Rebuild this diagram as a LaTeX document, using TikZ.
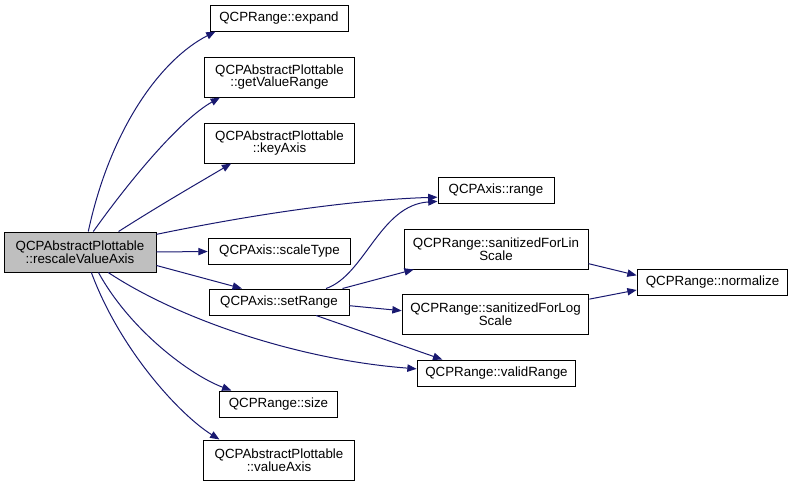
\documentclass[tikz,border=0pt]{standalone}
\usepackage{fontspec}
\setmainfont{Liberation Sans}
\usetikzlibrary{arrows.meta}
\definecolor{edgeblue}{HTML}{191970}
\definecolor{mainfill}{HTML}{BFBFBF}
\begin{document}
\begin{tikzpicture}[x=0.75pt, y=-0.75pt, >={Triangle[length=7pt,width=5.5pt]},
	box/.style={draw=black, line width=0.75pt, fill=white, inner sep=0pt, align=center, font=\fontsize{10pt}{9.6pt}\selectfont},
	link/.style={->, draw=edgeblue, line width=0.75pt}]
	\useasboundingbox (0,0) rectangle (793,489);
	% functions
	\node[box, fill=mainfill, minimum width=114pt, minimum height=30pt] (rescale) at (80,252) {QCPAbstractPlottable\\::rescaleValueAxis};
	\node[box, minimum width=103.5pt, minimum height=19.5pt] (expand) at (279,18) {QCPRange::expand};
	\node[box, minimum width=113pt, minimum height=30pt] (getvalue) at (279.5,77) {QCPAbstractPlottable\\::getValueRange};
	\node[box, minimum width=113pt, minimum height=30pt] (keyaxis) at (279.5,143) {QCPAbstractPlottable\\::keyAxis};
	\node[box, minimum width=87pt, minimum height=19.5pt] (range) at (496,190) {QCPAxis::range};
	\node[box, minimum width=107pt, minimum height=19pt] (scaletype) at (279.5,251.5) {QCPAxis::scaleType};
	\node[box, minimum width=105pt, minimum height=19.5pt] (setrange) at (279,302) {QCPAxis::setRange};
	\node[box, minimum width=138pt, minimum height=30pt] (sanlin) at (496,249) {QCPRange::sanitizedForLin\\Scale};
	\node[box, minimum width=140pt, minimum height=30pt] (sanlog) at (495.5,314) {QCPRange::sanitizedForLog\\Scale};
	\node[box, minimum width=113pt, minimum height=19.5pt] (normalize) at (712.5,282) {QCPRange::normalize};
	\node[box, minimum width=119pt, minimum height=19.5pt] (validrange) at (496.5,373) {QCPRange::validRange};
	\node[box, minimum width=89pt, minimum height=19.5pt] (size) at (278.5,404) {QCPRange::size};
	\node[box, minimum width=113pt, minimum height=30pt] (valueaxis) at (279,460) {QCPAbstractPlottable\\::valueAxis};
	% calls
	\draw[link] (rescale.68) .. controls (110,130) and (160,60) .. (expand.192);
	\draw[link] (rescale.57) .. controls (130,180) and (180,120) .. (getvalue.199);
	\draw[link] (rescale.28) .. controls (160,205) and (200,182) .. (keyaxis.203);
	\draw[link] (rescale.13) .. controls (250,215) and (350,200) .. (range.187);
	\draw[link] (rescale.east) -- (scaletype.west);
	\draw[link] (rescale.-10) -- (setrange.160);
	\draw[link] (rescale.-36) .. controls (180,320) and (300,360) .. (validrange.177);
	\draw[link] (rescale.-48) .. controls (130,330) and (190,375) .. (size.164);
	\draw[link] (rescale.-61) .. controls (120,350) and (180,415) .. (valueaxis.161);
	\draw[link] (setrange.16) .. controls (365,275) and (380,205) .. (range.191);
	\draw[link] (setrange.12) -- (sanlin.194);
	\draw[link] (setrange.-3) -- (sanlog.178);
	\draw[link] (setrange.-20) -- (validrange.166);
	\draw[link] (sanlin.-9) -- (normalize.175);
	\draw[link] (sanlog.9) -- (normalize.186);
\end{tikzpicture}
\end{document}
